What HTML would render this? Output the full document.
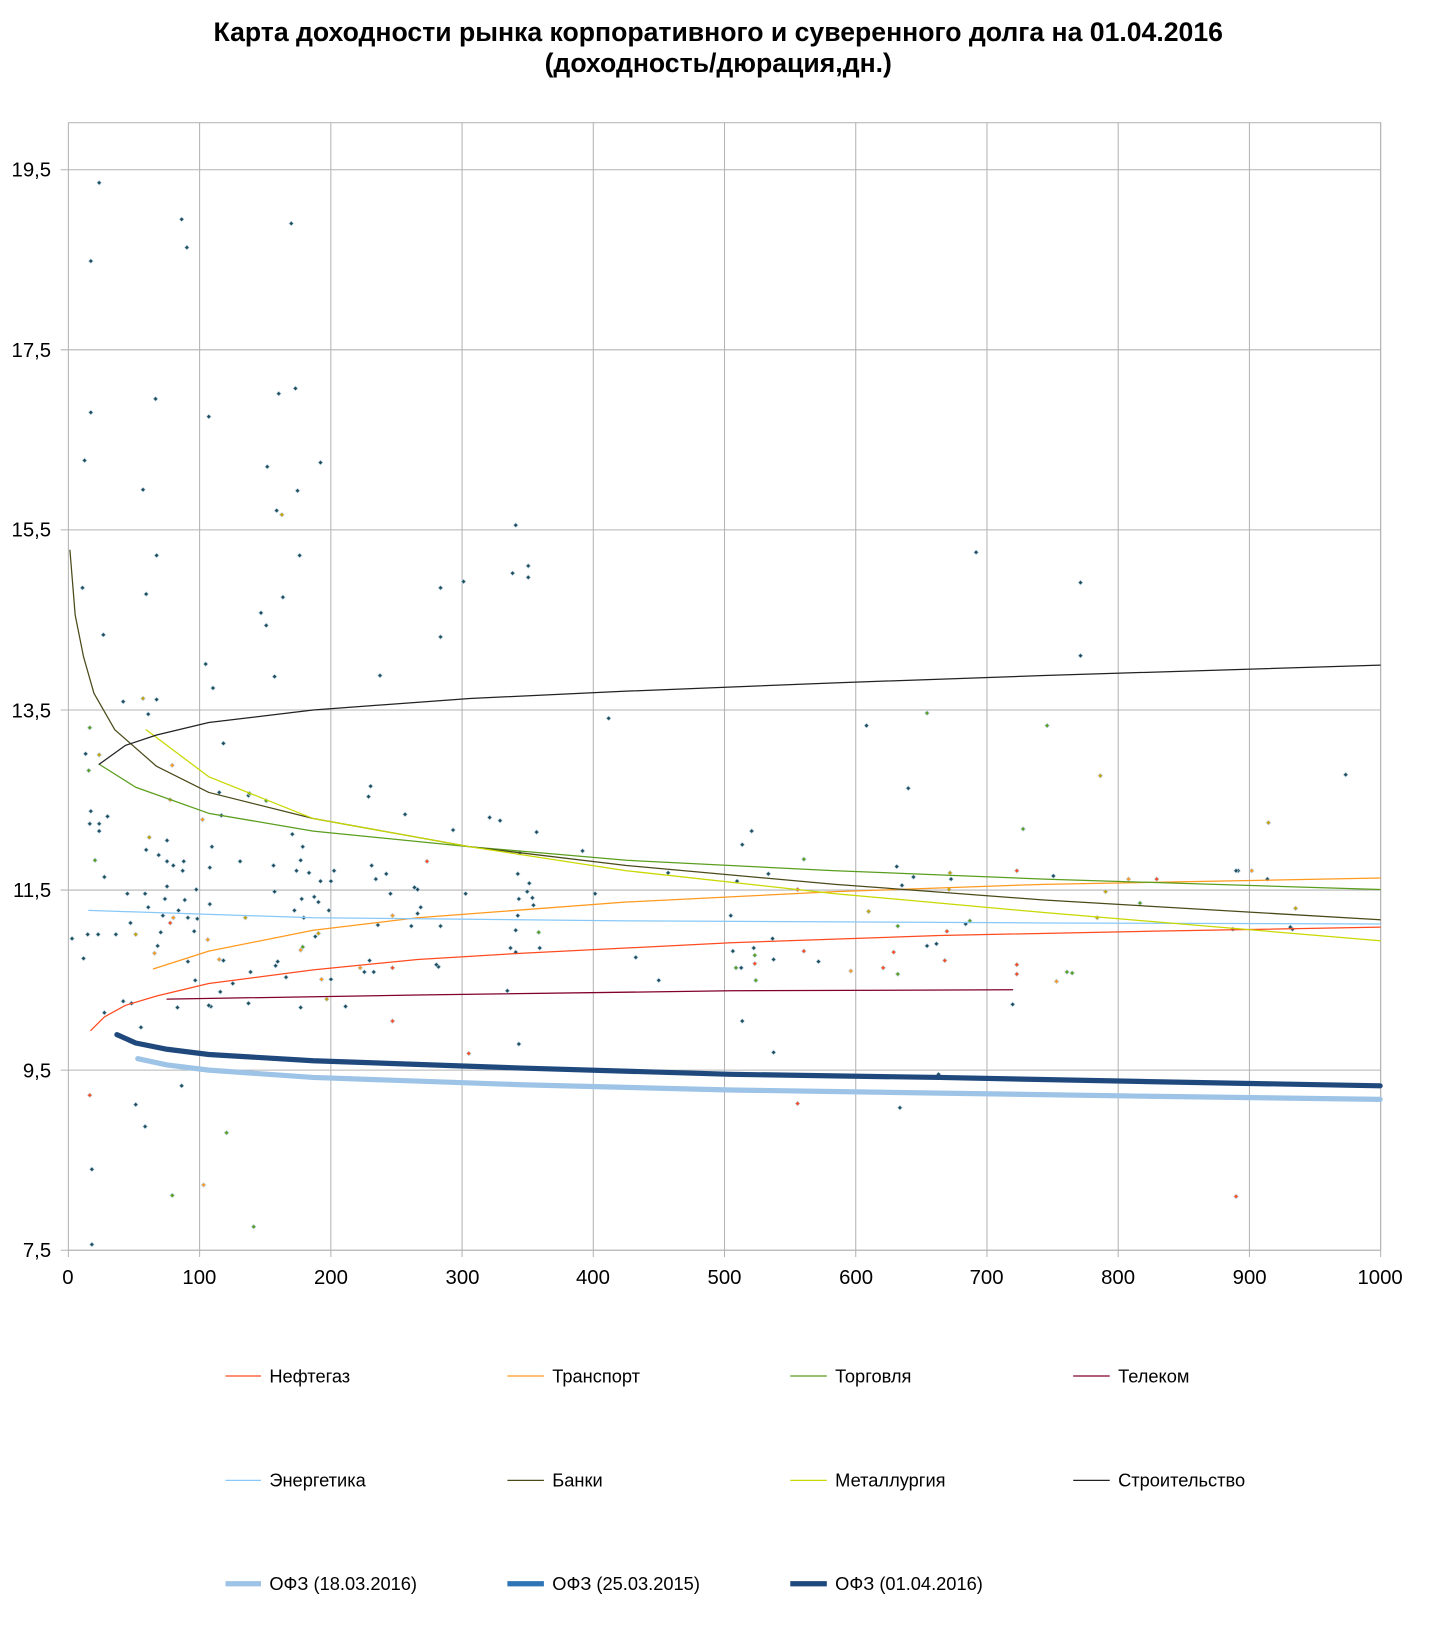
<!DOCTYPE html>
<html><head><meta charset="utf-8">
<style>
html,body{margin:0;padding:0;background:#fff;}
svg{display:block;}
text{font-family:"Liberation Sans",sans-serif;}
</style></head>
<body>
<svg id="s" width="1434" height="1635" viewBox="0 1 1373.6 1566" xmlns="http://www.w3.org/2000/svg">
<rect y="0" width="1380" height="1580" fill="#fff"/>
<text x="688" y="40" font-size="25.5" font-weight="bold" text-anchor="middle">Карта доходности рынка корпоративного и суверенного долга на 01.04.2016</text>
<text x="688" y="70" font-size="25.5" font-weight="bold" text-anchor="middle">(доходность/дюрация,дн.)</text>
<g stroke="#b4b4b4" stroke-width="1" fill="none">
<rect x="65.5" y="118.5" width="1257" height="1080"/>
<line x1="58" x2="1322" y1="163.5" y2="163.5"/>
<line x1="58" x2="1322" y1="336" y2="336"/>
<line x1="58" x2="1322" y1="508.5" y2="508.5"/>
<line x1="58" x2="1322" y1="681" y2="681"/>
<line x1="58" x2="1322" y1="853.5" y2="853.5"/>
<line x1="58" x2="1322" y1="1026" y2="1026"/>
<line x1="58" x2="1322" y1="1198.5" y2="1198.5"/>
<line x1="191.2" x2="191.2" y1="118" y2="1205"/>
<line x1="316.9" x2="316.9" y1="118" y2="1205"/>
<line x1="442.6" x2="442.6" y1="118" y2="1205"/>
<line x1="568.3" x2="568.3" y1="118" y2="1205"/>
<line x1="694" x2="694" y1="118" y2="1205"/>
<line x1="819.7" x2="819.7" y1="118" y2="1205"/>
<line x1="945.4" x2="945.4" y1="118" y2="1205"/>
<line x1="1071.1" x2="1071.1" y1="118" y2="1205"/>
<line x1="1196.8" x2="1196.8" y1="118" y2="1205"/>
<line x1="1322.5" x2="1322.5" y1="118" y2="1205"/>
<line x1="65.5" x2="65.5" y1="1198" y2="1205"/>
</g>
<g font-size="19.5" text-anchor="end" fill="#000">
<text x="49" y="170">19,5</text><text x="49" y="343">17,5</text><text x="49" y="515">15,5</text>
<text x="49" y="688">13,5</text><text x="49" y="860">11,5</text><text x="49" y="1033">9,5</text><text x="49" y="1205">7,5</text>
</g>
<g font-size="19.5" text-anchor="middle" fill="#000">
<text x="65" y="1231">0</text><text x="191" y="1231">100</text><text x="317" y="1231">200</text><text x="443" y="1231">300</text><text x="568" y="1231">400</text><text x="694" y="1231">500</text><text x="820" y="1231">600</text><text x="945" y="1231">700</text><text x="1071" y="1231">800</text><text x="1197" y="1231">900</text><text x="1322" y="1231">1000</text>
</g>
<g id="dots"></g>
<g fill="none" stroke-linejoin="round" stroke-linecap="round">
<polyline stroke="#9dc3e6" stroke-width="5" points="132,1015 160,1021 200,1026 300,1033 500,1040 700,1045 900,1048 1100,1051 1322,1054"/>
<polyline stroke="#1f497d" stroke-width="5" points="112,992 130,1000 160,1006 200,1011 300,1017 500,1024 700,1030 900,1033 1100,1037 1322,1041"/>
<polyline stroke="#ff4b1f" stroke-width="1.2" points="87,988 100,975 120,964 150,955 200,943 300,930 400,920 500,914 700,904 900,897 1100,893 1322,889"/>
<polyline stroke="#ff9a1f" stroke-width="1.2" points="147,929 200,912 300,892 400,880 600,865 800,855 1000,848 1322,842"/>
<polyline stroke="#5a9e1e" stroke-width="1.2" points="95,733 130,755 200,780 300,797 450,812 600,825 800,835 1000,843 1322,853"/>
<polyline stroke="#80002a" stroke-width="1.2" points="160,958 400,954 700,950 970,949"/>
<polyline stroke="#88c8f8" stroke-width="1.2" points="85,873 300,880 600,883 1000,885 1322,886"/>
<polyline stroke="#4a4a1a" stroke-width="1.2" points="67,528 72,590 80,630 90,665 110,700 150,735 200,760 300,785 450,812 600,830 800,848 1000,863 1322,882"/>
<polyline stroke="#c8d800" stroke-width="1.2" points="140,700 200,745 300,785 450,812 600,835 800,857 1000,875 1322,902"/>
<polyline stroke="#222" stroke-width="1.2" points="95,733 120,715 150,705 200,693 300,681 450,670 600,663 800,655 1000,648 1322,638"/>
</g>
<g font-size="17.5" fill="#000">
<line x1="216" x2="250" y1="1319" y2="1319" stroke="#ff4b1f" stroke-width="1.2"/><text x="258" y="1325">Нефтегаз</text>
<line x1="486" x2="521" y1="1319" y2="1319" stroke="#ff9a1f" stroke-width="1.2"/><text x="529" y="1325">Транспорт</text>
<line x1="757" x2="792" y1="1319" y2="1319" stroke="#5a9e1e" stroke-width="1.2"/><text x="800" y="1325">Торговля</text>
<line x1="1028" x2="1063" y1="1319" y2="1319" stroke="#80002a" stroke-width="1.2"/><text x="1071" y="1325">Телеком</text>
<line x1="216" x2="250" y1="1419" y2="1419" stroke="#88c8f8" stroke-width="1.2"/><text x="258" y="1425">Энергетика</text>
<line x1="486" x2="521" y1="1419" y2="1419" stroke="#4a4a1a" stroke-width="1.2"/><text x="529" y="1425">Банки</text>
<line x1="757" x2="792" y1="1419" y2="1419" stroke="#c8d800" stroke-width="1.2"/><text x="800" y="1425">Металлургия</text>
<line x1="1028" x2="1063" y1="1419" y2="1419" stroke="#222" stroke-width="1.2"/><text x="1071" y="1425">Строительство</text>
<line x1="216" x2="250" y1="1518" y2="1518" stroke="#9dc3e6" stroke-width="5"/><text x="258" y="1524">ОФЗ (18.03.2016)</text>
<line x1="486" x2="521" y1="1518" y2="1518" stroke="#2e75b6" stroke-width="5"/><text x="529" y="1524">ОФЗ (25.03.2015)</text>
<line x1="757" x2="792" y1="1518" y2="1518" stroke="#1f497d" stroke-width="5"/><text x="800" y="1524">ОФЗ (01.04.2016)</text>
</g>
</svg>
<script>
var P=[[95,176],[174,211],[279,215],[179,238],[87,251],[87,396],[149,383],[200,400],[267,378],[283,373],[81,442],[256,448],[307,444],[137,470],[285,471],[265,490],[494,504],[150,533],[287,533],[935,530],[79,564],[140,570],[506,543],[444,558],[422,564],[491,550],[506,554],[1035,559],[271,573],[250,588],[255,600],[99,609],[422,611],[197,637],[204,660],[118,673],[150,671],[263,649],[364,648],[583,689],[830,696],[1035,629],[142,685],[214,713],[82,723],[87,778],[103,783],[95,790],[95,797],[86,790],[100,841],[870,756],[355,754],[353,764],[469,784],[479,787],[434,796],[514,798],[558,816],[711,810],[720,797],[736,838],[388,781],[210,760],[238,763],[212,782],[160,806],[160,826],[152,820],[166,830],[176,826],[140,815],[203,812],[175,835],[201,832],[230,826],[288,825],[284,835],[290,812],[280,800],[262,830],[296,837],[307,845],[320,835],[356,830],[370,838],[360,843],[397,851],[400,853],[446,857],[498,818],[496,838],[507,847],[505,855],[510,861],[497,862],[511,868],[570,857],[640,837],[706,845],[859,831],[864,849],[875,841],[911,843],[1009,840],[1186,835],[1214,843],[122,857],[139,857],[142,870],[158,862],[160,850],[188,853],[189,881],[177,863],[180,880],[154,894],[125,885],[111,896],[94,896],[84,896],[69,900],[80,919],[156,878],[171,873],[186,893],[201,867],[187,940],[263,855],[289,862],[282,873],[291,880],[301,860],[305,865],[302,898],[317,845],[315,873],[374,857],[362,887],[394,888],[403,870],[400,876],[422,888],[420,927],[496,878],[494,892],[494,913],[489,909],[517,909],[609,918],[631,940],[700,878],[702,912],[710,928],[722,909],[740,900],[741,920],[784,922],[888,907],[897,905],[925,886],[1238,891],[1181,891],[151,907],[180,922],[214,921],[211,951],[202,965],[223,943],[240,932],[266,922],[274,937],[264,926],[317,939],[331,965],[358,932],[349,932],[354,921],[418,925],[486,950],[497,1001],[711,979],[741,1009],[862,1062],[126,962],[100,971],[118,960],[135,985],[170,966],[200,964],[238,962],[288,966],[970,963],[139,1080],[88,1121],[88,1193],[130,1059],[174,1041],[899,1030]];
var C=[[86,1050,"#ff4b1f"],[137,670,"#c8a000"],[143,803,"#c8a000"],[95,724,"#c8a000"],[86,698,"#5a9e1e"],[85,739,"#5a9e1e"],[91,825,"#5a9e1e"],[165,734,"#ff9a1f"],[163,767,"#ff9a1f"],[194,786,"#ff9a1f"],[270,494,"#c8a000"],[239,761,"#5a9e1e"],[255,768,"#5a9e1e"],[409,826,"#ff4b1f"],[130,896,"#c8a000"],[148,914,"#ff9a1f"],[166,880,"#ff9a1f"],[163,885,"#ff4b1f"],[199,901,"#ff9a1f"],[210,920,"#ff9a1f"],[235,880,"#c8a000"],[288,911,"#ff9a1f"],[305,895,"#c8a000"],[313,958,"#c8a000"],[308,939,"#ff9a1f"],[345,928,"#ff9a1f"],[376,928,"#ff4b1f"],[376,878,"#ff9a1f"],[376,979,"#ff4b1f"],[449,1010,"#ff4b1f"],[516,894,"#5a9e1e"],[217,1086,"#5a9e1e"],[165,1146,"#5a9e1e"],[243,1176,"#5a9e1e"],[195,1136,"#ff9a1f"],[290,908,"#5a9e1e"],[770,824,"#5a9e1e"],[764,853,"#ff4b1f"],[770,912,"#ff4b1f"],[764,1058,"#ff4b1f"],[723,916,"#5a9e1e"],[723,924,"#ff4b1f"],[724,940,"#5a9e1e"],[705,928,"#5a9e1e"],[815,931,"#ff9a1f"],[832,874,"#c8a000"],[846,928,"#ff4b1f"],[856,913,"#ff4b1f"],[860,934,"#5a9e1e"],[860,888,"#5a9e1e"],[888,684,"#5a9e1e"],[905,921,"#ff4b1f"],[907,893,"#ff4b1f"],[909,853,"#c8a000"],[910,837,"#c8a000"],[929,883,"#5a9e1e"],[974,835,"#ff4b1f"],[974,925,"#ff4b1f"],[974,934,"#ff4b1f"],[980,795,"#5a9e1e"],[1003,696,"#5a9e1e"],[1012,941,"#ff9a1f"],[1022,932,"#5a9e1e"],[1027,933,"#5a9e1e"],[1054,744,"#c8a000"],[1059,855,"#c8a000"],[1051,880,"#c8a000"],[1081,843,"#ff9a1f"],[1108,843,"#ff4b1f"],[1092,866,"#5a9e1e"],[1184,1147,"#ff4b1f"],[1199,835,"#ff9a1f"],[1215,789,"#c8a000"],[1241,871,"#c8a000"],[1289,743,"#1e4d5c"],[1236,889,"#1e4d5c"],[1184,835,"#1e4d5c"]];
var g=document.getElementById('dots'),h='';
function d(x,y,c){h+='<path d="M'+(x-2.2)+' '+y+'L'+x+' '+(y-2.2)+'L'+(x+2.2)+' '+y+'L'+x+' '+(y+2.2)+'Z" fill="'+c+'" stroke="#b8d0e0" stroke-width="0.6"/>';}
P.forEach(function(p){d(p[0],p[1],'#1e4d5c');});
C.forEach(function(p){d(p[0],p[1],p[2]);});
g.innerHTML=h;
</script>
</body></html>
